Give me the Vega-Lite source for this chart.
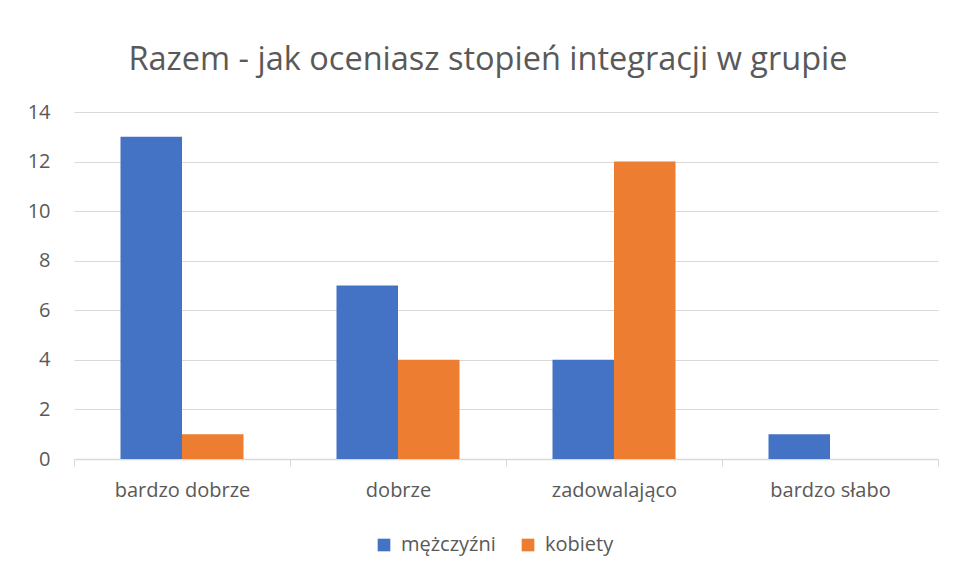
{
  "$schema": "https://vega.github.io/schema/vega-lite/v6.json",
  "autosize": {"type": "none"},
  "width": 864,
  "height": 347,
  "padding": {"left": 74, "top": 112, "right": 16, "bottom": 113},
  "background": "white",
  "title": {
    "text": "Razem - jak oceniasz stopień integracji w grupie",
    "anchor": "middle",
    "dx": -18,
    "offset": 26,
    "fontSize": 32.5,
    "font": "Open Sans",
    "fontWeight": "normal",
    "color": "#595959"
  },
  "data": {
    "values": [
      {"ocena": "bardzo dobrze", "plec": "mężczyźni", "liczba": 13},
      {"ocena": "bardzo dobrze", "plec": "kobiety", "liczba": 1},
      {"ocena": "dobrze", "plec": "mężczyźni", "liczba": 7},
      {"ocena": "dobrze", "plec": "kobiety", "liczba": 4},
      {"ocena": "zadowalająco", "plec": "mężczyźni", "liczba": 4},
      {"ocena": "zadowalająco", "plec": "kobiety", "liczba": 12},
      {"ocena": "bardzo słabo", "plec": "mężczyźni", "liczba": 1},
      {"ocena": "bardzo słabo", "plec": "kobiety", "liczba": 0}
    ]
  },
  "mark": {"type": "bar"},
  "encoding": {
    "x": {
      "field": "ocena",
      "type": "nominal",
      "sort": ["bardzo dobrze", "dobrze", "zadowalająco", "bardzo słabo"],
      "scale": {"paddingInner": 0, "paddingOuter": 0},
      "axis": {
        "title": null,
        "labelAngle": 0,
        "tickBand": "extent",
        "ticks": true,
        "tickSize": 7,
        "tickColor": "#d9d9d9",
        "domainColor": "#d9d9d9",
        "domainWidth": 1.5,
        "grid": false,
        "labelFontSize": 20,
        "labelFont": "Open Sans",
        "labelColor": "#595959",
        "labelPadding": 14
      }
    },
    "xOffset": {
      "field": "plec",
      "type": "nominal",
      "sort": ["mężczyźni", "kobiety"],
      "scale": {"paddingInner": 0, "paddingOuter": 0.756}
    },
    "y": {
      "field": "liczba",
      "type": "quantitative",
      "scale": {"domain": [0, 14], "nice": false},
      "axis": {
        "title": null,
        "values": [0, 2, 4, 6, 8, 10, 12, 14],
        "domain": false,
        "ticks": false,
        "gridColor": "#d9d9d9",
        "gridWidth": 1.2,
        "labelFontSize": 20,
        "labelFont": "Open Sans",
        "labelColor": "#595959",
        "labelPadding": 24
      }
    },
    "color": {
      "field": "plec",
      "type": "nominal",
      "sort": ["mężczyźni", "kobiety"],
      "scale": {"domain": ["mężczyźni", "kobiety"], "range": ["#4472C4", "#ED7D31"]},
      "legend": {
        "title": null,
        "orient": "none",
        "legendX": 300,
        "legendY": 423,
        "direction": "horizontal",
        "symbolType": "square",
        "symbolSize": 160,
        "symbolStrokeWidth": 0,
        "labelFontSize": 20,
        "labelFont": "Open Sans",
        "labelColor": "#595959",
        "labelOffset": 7,
        "columnPadding": 22
      }
    }
  },
  "config": {"view": {"stroke": null}}
}
